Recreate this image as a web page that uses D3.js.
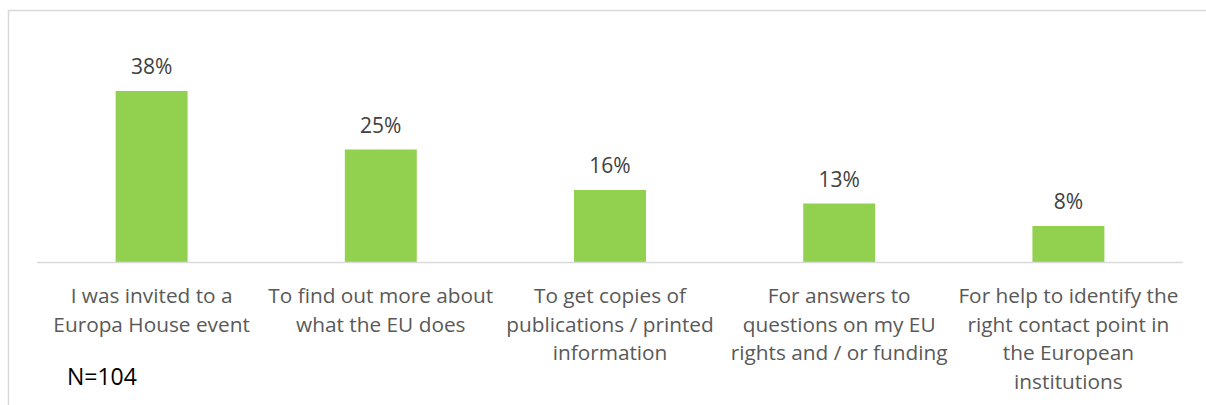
<!DOCTYPE html>
<html>
<head>
<meta charset="utf-8">
<script src="https://cdn.jsdelivr.net/npm/d3@7"></script>
<style>
  html, body { margin: 0; padding: 0; background: #fff; }
  svg { display: block; }
</style>
</head>
<body>
<svg id="chart" width="1206" height="405"></svg>
<script>
// Reasons for contacting Europa House (share of respondents)
const categories = [
  "I was invited to a\nEuropa House event",
  "To find out more about\nwhat the EU does",
  "To get copies of\npublications / printed\ninformation",
  "For answers to\nquestions on my EU\nrights and / or funding",
  "For help to identify the\nright contact point in\nthe European\ninstitutions"
];
const values = [38, 25, 16, 13, 8];
const sampleNote = "N=104";

const W = 1206, H = 405;
const svg = d3.select("#chart");
const font = "Open Sans, sans-serif";

// outer frame (only top and left edges fall inside the view)
svg.append("path")
  .attr("d", `M8.5,${H} V10.5 H${W}`)
  .attr("fill", "none")
  .attr("stroke", "#d9d9d9")
  .attr("stroke-width", 1.5);

const plot = { left: 37, right: 1183, top: 82, bottom: 262 };

const x = d3.scaleBand()
  .domain(categories)
  .range([plot.left, plot.right])
  .paddingInner(0.686)
  .paddingOuter(0.343);

const y = d3.scaleLinear()
  .domain([0, 40])
  .range([plot.bottom, plot.top]);

// bars
svg.append("g").selectAll("rect")
  .data(values)
  .join("rect")
  .attr("x", (d, i) => x(categories[i]))
  .attr("y", d => y(d))
  .attr("width", x.bandwidth())
  .attr("height", d => y(0) - y(d))
  .attr("fill", "#92d050");

// baseline
svg.append("line")
  .attr("x1", plot.left).attr("x2", plot.right)
  .attr("y1", y(0) + 0.5).attr("y2", y(0) + 0.5)
  .attr("stroke", "#d9d9d9")
  .attr("stroke-width", 1.5);

// value labels
svg.append("g").selectAll("text")
  .data(values)
  .join("text")
  .attr("x", (d, i) => x(categories[i]) + x.bandwidth() / 2)
  .attr("y", d => y(d) - 17)
  .attr("text-anchor", "middle")
  .attr("font-family", font)
  .attr("font-size", 21)
  .attr("fill", "#404040")
  .text(d => d + "%");

// category labels
const xAxis = svg.append("g");
categories.forEach(c => {
  const cx = x(c) + x.bandwidth() / 2;
  const t = xAxis.append("text")
    .attr("x", cx)
    .attr("y", 303)
    .attr("text-anchor", "middle")
    .attr("font-family", font)
    .attr("font-size", 20.8)
    .attr("fill", "#595959");
  c.split("\n").forEach((line, j) => {
    t.append("tspan")
      .attr("x", cx)
      .attr("dy", j === 0 ? 0 : 28.5)
      .text(line);
  });
});

// sample size note
svg.append("text")
  .attr("x", 67)
  .attr("y", 385)
  .attr("font-family", font)
  .attr("font-size", 23)
  .attr("fill", "#000")
  .text(sampleNote);
</script>
</body>
</html>
